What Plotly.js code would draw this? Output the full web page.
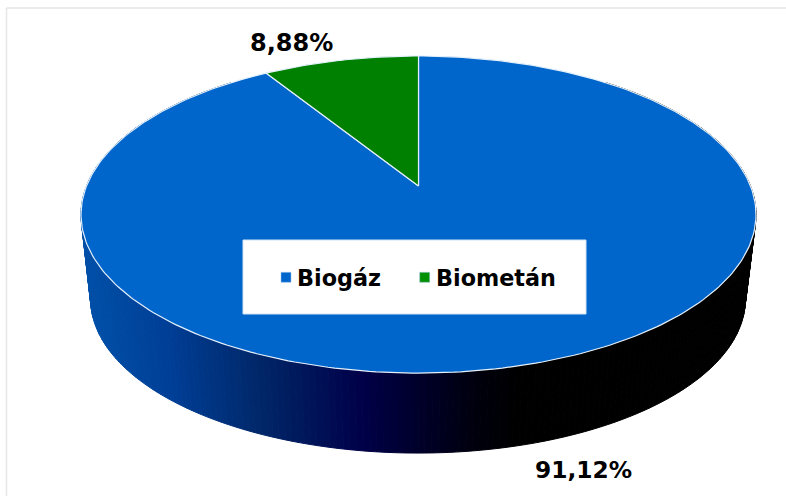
<!DOCTYPE html>
<html><head><meta charset="utf-8">
<script src="https://cdn.plot.ly/plotly-3.0.1.min.js"></script>
<style>html,body{margin:0;padding:0;background:#fff}</style></head>
<body><div id="chart" style="width:786px;height:496px"></div>
<script>
const categories = ["Biogáz", "Biometán"];
const shares = [91.12, 8.88];
const sliceColors = ["#0066cc", "#008000"];
const legendMarkerColors = ["#0066cc", "#009000"];
const gradientStops = [[80,[0,80,168]],[167,[0,62,150]],[254,[0,40,106]],[362,[0,0,72]],[470,[0,0,16]],[520,[0,0,0]],[760,[0,0,0]]];

// projection of the tilted disc onto the page (page pixels)
const cam = {x:418.5, y:186, a:332, b:153.4, k:0.18};
const base = {x:418, y:271.6, a:322, b:148.8, k:0.18};
function project(p, deg){
  const t = deg*Math.PI/180, u = Math.sin(t), v = Math.cos(t), w = 1 + p.k*v;
  return [p.x + p.a*u/w, p.y - p.b*v/w];
}
function sideColor(x){
  for(let i=1;i<gradientStops.length;i++){
    const [x0,c0]=gradientStops[i-1],[x1,c1]=gradientStops[i];
    if(x<=x1){const f=Math.max(0,(x-x0)/(x1-x0));
      return 'rgb('+c0.map((c,j)=>Math.round(c+(c1[j]-c)*f)).join(',')+')';}
  }
  return 'rgb(0,0,0)';
}
const traces = [];
// side wall of the disc
const step = 1;
for(let d=40; d<320; d+=step){
  const a=project(cam,d), b=project(cam,d+step), c=project(base,d+step), e=project(base,d);
  const col=sideColor((a[0]+b[0])/2);
  traces.push({type:'scatter',mode:'lines',x:[a[0],b[0],c[0],e[0],a[0]],y:[a[1],b[1],c[1],e[1],a[1]],
    fill:'toself',fillcolor:col,line:{color:col,width:1},hoverinfo:'skip',showlegend:false});
}
// top surface, slices clockwise from 12 o'clock
let cum=0;
categories.forEach((name,i)=>{
  const start=cum*3.6, end=(cum+shares[i])*3.6; cum+=shares[i];
  const xs=[cam.x], ys=[cam.y];
  for(let d=start; d<end; d+=1){const p=project(cam,d); xs.push(p[0]); ys.push(p[1]);}
  const p=project(cam,end); xs.push(p[0],cam.x); ys.push(p[1],cam.y);
  traces.push({type:'scatter',mode:'lines',name,x:xs,y:ys,fill:'toself',fillcolor:sliceColors[i],
    line:{color:'#e4f0fb',width:1.2},showlegend:false,hoverinfo:'name'});
});
const fmt=v=>'<b>'+v.toFixed(2).replace('.',',')+'%</b>';
const annotations=[
 {text:fmt(shares[1]),x:291,y:43,xref:'x',yref:'y',showarrow:false,font:{family:'DejaVu Sans',size:24,color:'#000'}},
 {text:fmt(shares[0]),x:583.5,y:469,xref:'x',yref:'y',showarrow:false,font:{family:'DejaVu Sans',size:23.3,color:'#000'}},
];
// legend box and entries
const box={x0:243,x1:586,y0:240,y1:314};
traces.push({type:'scatter',mode:'lines',x:[box.x0,box.x1,box.x1,box.x0,box.x0],y:[box.y0,box.y0,box.y1,box.y1,box.y0],
  fill:'toself',fillcolor:'#fff',line:{color:'#cfe3f5',width:1},hoverinfo:'skip',showlegend:false});
const legX=[286,424.7], legTextX=[294.8,433.8], legY=277.3;
categories.forEach((name,i)=>{
  traces.push({type:'scatter',mode:'markers',x:[legX[i]],y:[legY],marker:{symbol:'square',size:10,color:legendMarkerColors[i],line:{color:'#9cc4ea',width:0.5}},hoverinfo:'skip',showlegend:false});
  annotations.push({text:'<b>'+name+'</b>',x:legTextX[i],y:legY+0.5,xref:'x',yref:'y',xanchor:'left',showarrow:false,font:{family:'DejaVu Sans',size:22.3,color:'#000'}});
});
const shapes=[
 {type:'line',xref:'x',yref:'y',x0:6.5,x1:786,y0:8,y1:8,line:{color:'#e6e6e6',width:1.5},layer:'below'},
 {type:'line',xref:'x',yref:'y',x0:6.5,x1:6.5,y0:8,y1:496,line:{color:'#e6e6e6',width:1.5},layer:'below'},
];
const layout={width:786,height:496,margin:{l:0,r:0,t:0,b:0},paper_bgcolor:'#fff',plot_bgcolor:'#fff',showlegend:false,
 xaxis:{range:[0,786],visible:false,fixedrange:true},yaxis:{range:[496,0],visible:false,fixedrange:true},
 shapes,annotations};
Plotly.newPlot('chart',traces,layout,{displayModeBar:false,staticPlot:true});
</script></body></html>
